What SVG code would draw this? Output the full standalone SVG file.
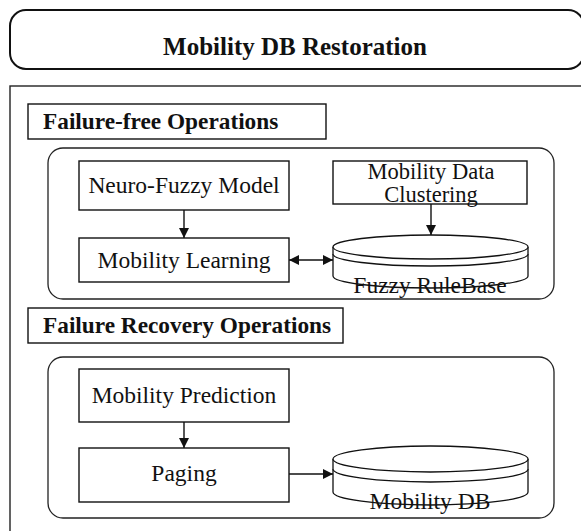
<svg xmlns="http://www.w3.org/2000/svg" width="581" height="531" viewBox="0 0 581 531">
<style>
.box{fill:#fff;stroke:#111;stroke-width:1.4}
.grp{fill:none;stroke:#222;stroke-width:1.3}
.t{font-family:"Liberation Serif","Times New Roman",serif;font-size:23.5px;fill:#111;text-anchor:middle}
.h{font-family:"Liberation Serif","Times New Roman",serif;font-size:23.3px;font-weight:bold;fill:#111}
.cyl{fill:#fff;stroke:#111;stroke-width:1.3}
.ln{fill:none;stroke:#111;stroke-width:1.4}
</style>
<defs>
<marker id="ah" viewBox="0 0 10 10" refX="10" refY="5" markerWidth="10" markerHeight="10" markerUnits="userSpaceOnUse" orient="auto-start-reverse">
<path d="M0,0 L10,5 L0,10 z" fill="#111"/>
</marker>
</defs>
<rect width="581" height="531" fill="#fff"/>
<g id="title">
<rect x="10" y="10" width="574" height="59" rx="16" ry="16" fill="#fff" stroke="#111" stroke-width="2"/>
<text x="295" y="55" font-family="'Liberation Serif','Times New Roman',serif" font-size="25" font-weight="bold" text-anchor="middle" fill="#111">Mobility DB Restoration</text>
</g>
<g id="outer">
<rect x="10" y="86" width="590" height="460" fill="none" stroke="#222" stroke-width="1.4"/>
</g>
<g id="failure-free">
<rect x="28" y="104" width="298" height="35" class="box"/>
<text x="43" y="129" class="h">Failure-free Operations</text>
<rect x="48" y="148" width="506" height="151" rx="15" ry="15" class="grp"/>
</g>
<g id="neuro-fuzzy">
<rect x="79" y="161" width="210" height="49" class="box"/>
<text x="184" y="193" class="t">Neuro-Fuzzy Model</text>
</g>
<g id="mobility-learning">
<rect x="79" y="238" width="210" height="44" class="box"/>
<text x="184" y="268" class="t">Mobility Learning</text>
</g>
<g id="clustering">
<rect x="333" y="161" width="194" height="43" class="box"/>
<text x="431" y="179" class="t" style="font-size:22.5px">Mobility Data</text>
<text x="431" y="202" class="t" style="font-size:22.5px">Clustering</text>
</g>
<g id="fuzzy-rulebase">
<path class="cyl" d="M333,247 L333,276 A97.5,12 0 0 0 528,276 L528,247"/>
<path class="cyl" d="M333,254 A97.5,12 0 0 0 528,254"/>
<ellipse cx="430.5" cy="247" rx="97.5" ry="12" class="cyl"/>
<text x="430" y="293" class="t">Fuzzy RuleBase</text>
</g>
<g id="failure-recovery">
<rect x="28" y="308" width="315" height="35" class="box"/>
<text x="43" y="333" class="h">Failure Recovery Operations</text>
<rect x="48" y="357" width="506" height="161" rx="15" ry="15" class="grp"/>
</g>
<g id="prediction">
<rect x="79" y="369" width="210" height="53" class="box"/>
<text x="184" y="403" class="t">Mobility Prediction</text>
</g>
<g id="paging">
<rect x="79" y="448" width="210" height="54" class="box"/>
<text x="184" y="481" class="t">Paging</text>
</g>
<g id="mobility-db">
<path class="cyl" d="M333,459 L333,492 A97.5,13 0 0 0 528,492 L528,459"/>
<path class="cyl" d="M333,469 A97.5,13 0 0 0 528,469"/>
<ellipse cx="430.5" cy="459" rx="97.5" ry="13" class="cyl"/>
<text x="430" y="509" class="t">Mobility DB</text>
</g>
<g id="connectors">
<line x1="184" y1="210" x2="184" y2="238" class="ln" marker-end="url(#ah)"/>
<line x1="431" y1="204" x2="431" y2="235" class="ln" marker-end="url(#ah)"/>
<line x1="289" y1="260" x2="333" y2="260" class="ln" marker-start="url(#ah)" marker-end="url(#ah)"/>
<line x1="184" y1="422" x2="184" y2="448" class="ln" marker-end="url(#ah)"/>
<line x1="289" y1="474" x2="333" y2="474" class="ln" marker-end="url(#ah)"/>
</g>
</svg>
